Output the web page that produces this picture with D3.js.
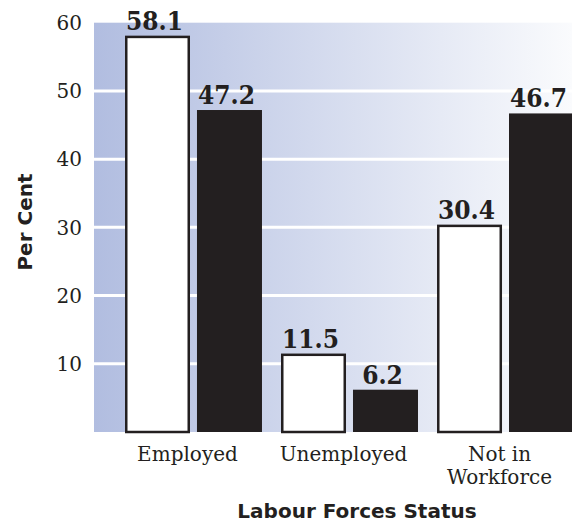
<!DOCTYPE html>
<html>
<head>
<meta charset="utf-8">
<script src="https://cdn.jsdelivr.net/npm/d3@7"></script>
<style>
  body { margin: 0; background: #fff; }
  svg { display: block; }
</style>
</head>
<body>
<div id="chart"></div>
<script>
// Chart data
const categories = ["Employed", "Unemployed", "Not in Workforce"];
const series = ["white", "black"];
const whiteValues = [58.1, 11.5, 30.4];
const blackValues = [47.2, 6.2, 46.7];
const yTicks = [10, 20, 30, 40, 50, 60];

const width = 572, height = 523;
const margin = { top: 22.7, right: 0, bottom: 91, left: 94 };
const ink = "#231f20";

const svg = d3.select("#chart")
    .append("svg")
    .attr("width", width)
    .attr("height", height);

// background gradient
const defs = svg.append("defs");
const grad = defs.append("linearGradient")
    .attr("id", "bg")
    .attr("gradientUnits", "userSpaceOnUse")
    .attr("x1", margin.left).attr("x2", width)
    .attr("y1", 0).attr("y2", 0);
grad.append("stop").attr("offset", "0%").attr("stop-color", "#b1bde0");
grad.append("stop").attr("offset", "100%").attr("stop-color", "#fafbfd");

const y = d3.scaleLinear()
    .domain([0, 60])
    .range([height - margin.bottom, margin.top]);

const x0 = d3.scaleBand()
    .domain(categories)
    .range([125, 574])
    .paddingInner(0.122)
    .paddingOuter(0);

const x1 = d3.scaleBand()
    .domain(series)
    .range([0, x0.bandwidth()])
    .paddingInner(0.097);

svg.append("rect")
    .attr("x", margin.left)
    .attr("y", y(60))
    .attr("width", width - margin.left)
    .attr("height", y(0) - y(60))
    .attr("fill", "url(#bg)");

// white gridlines
svg.append("g")
    .selectAll("line")
    .data(yTicks.filter(d => d < 60))
    .enter().append("line")
    .attr("x1", margin.left)
    .attr("x2", width)
    .attr("y1", d => y(d))
    .attr("y2", d => y(d))
    .attr("stroke", "#fff")
    .attr("stroke-width", 3);

// y tick labels
svg.append("g")
    .selectAll("text")
    .data(yTicks)
    .enter().append("text")
    .attr("x", 82)
    .attr("y", d => y(d))
    .attr("dy", "0.36em")
    .attr("text-anchor", "end")
    .style("font-family", "DejaVu Serif")
    .style("font-size", "20px")
    .style("fill", ink)
    .text(d => d);

// bars
const rows = categories.map((c, i) => ({
    cat: c,
    bars: [
        { key: "white", value: whiteValues[i] },
        { key: "black", value: blackValues[i] }
    ]
}));

const groups = svg.append("g")
    .selectAll("g")
    .data(rows)
    .enter().append("g")
    .attr("transform", d => "translate(" + x0(d.cat) + ",0)");

groups.selectAll("rect")
    .data(d => d.bars)
    .enter().append("rect")
    .attr("x", d => x1(d.key) + (d.key === "white" ? 1.25 : 0))
    .attr("y", d => y(d.value) + (d.key === "white" ? 1.25 : 0))
    .attr("width", d => x1.bandwidth() - (d.key === "white" ? 2.5 : 0))
    .attr("height", d => y(0) - y(d.value) - (d.key === "white" ? 1.25 : 0))
    .attr("fill", d => d.key === "white" ? "#fff" : ink)
    .attr("stroke", d => d.key === "white" ? ink : "none")
    .attr("stroke-width", 2.5);

groups.selectAll("text")
    .data(d => d.bars)
    .enter().append("text")
    .attr("x", d => x1(d.key) + x1.bandwidth() / 2 - 3)
    .attr("y", d => y(d.value) - 6)
    .attr("text-anchor", "middle")
    .style("font-family", "'DejaVu Serif Condensed', 'DejaVu Serif'")
    .style("font-stretch", "condensed")
    .style("font-weight", "bold")
    .style("font-size", "26px")
    .style("fill", ink)
    .text(d => d.value.toFixed(1));

// category labels
const catLabels = svg.append("g")
    .selectAll("text")
    .data(categories)
    .enter().append("text")
    .attr("x", d => x0(d) + x0.bandwidth() / 2 - 6)
    .attr("y", 461)
    .attr("text-anchor", "middle")
    .style("font-family", "DejaVu Serif")
    .style("font-size", "20px")
    .style("fill", ink);

catLabels.each(function (d) {
    const words = d === "Not in Workforce" ? ["Not in", "Workforce"] : [d];
    const t = d3.select(this);
    words.forEach((w, i) => {
        t.append("tspan")
            .attr("x", t.attr("x"))
            .attr("dy", i === 0 ? 0 : 23)
            .text(w);
    });
});

// axis titles
svg.append("text")
    .attr("transform", "translate(32,222) rotate(-90)")
    .attr("text-anchor", "middle")
    .style("font-family", "DejaVu Sans")
    .style("font-weight", "bold")
    .style("font-size", "20px")
    .style("fill", ink)
    .text("Per Cent");

svg.append("text")
    .attr("x", 357)
    .attr("y", 518)
    .attr("text-anchor", "middle")
    .style("font-family", "DejaVu Sans")
    .style("font-weight", "bold")
    .style("font-size", "20px")
    .style("fill", ink)
    .text("Labour Forces Status");
</script>
</body>
</html>
